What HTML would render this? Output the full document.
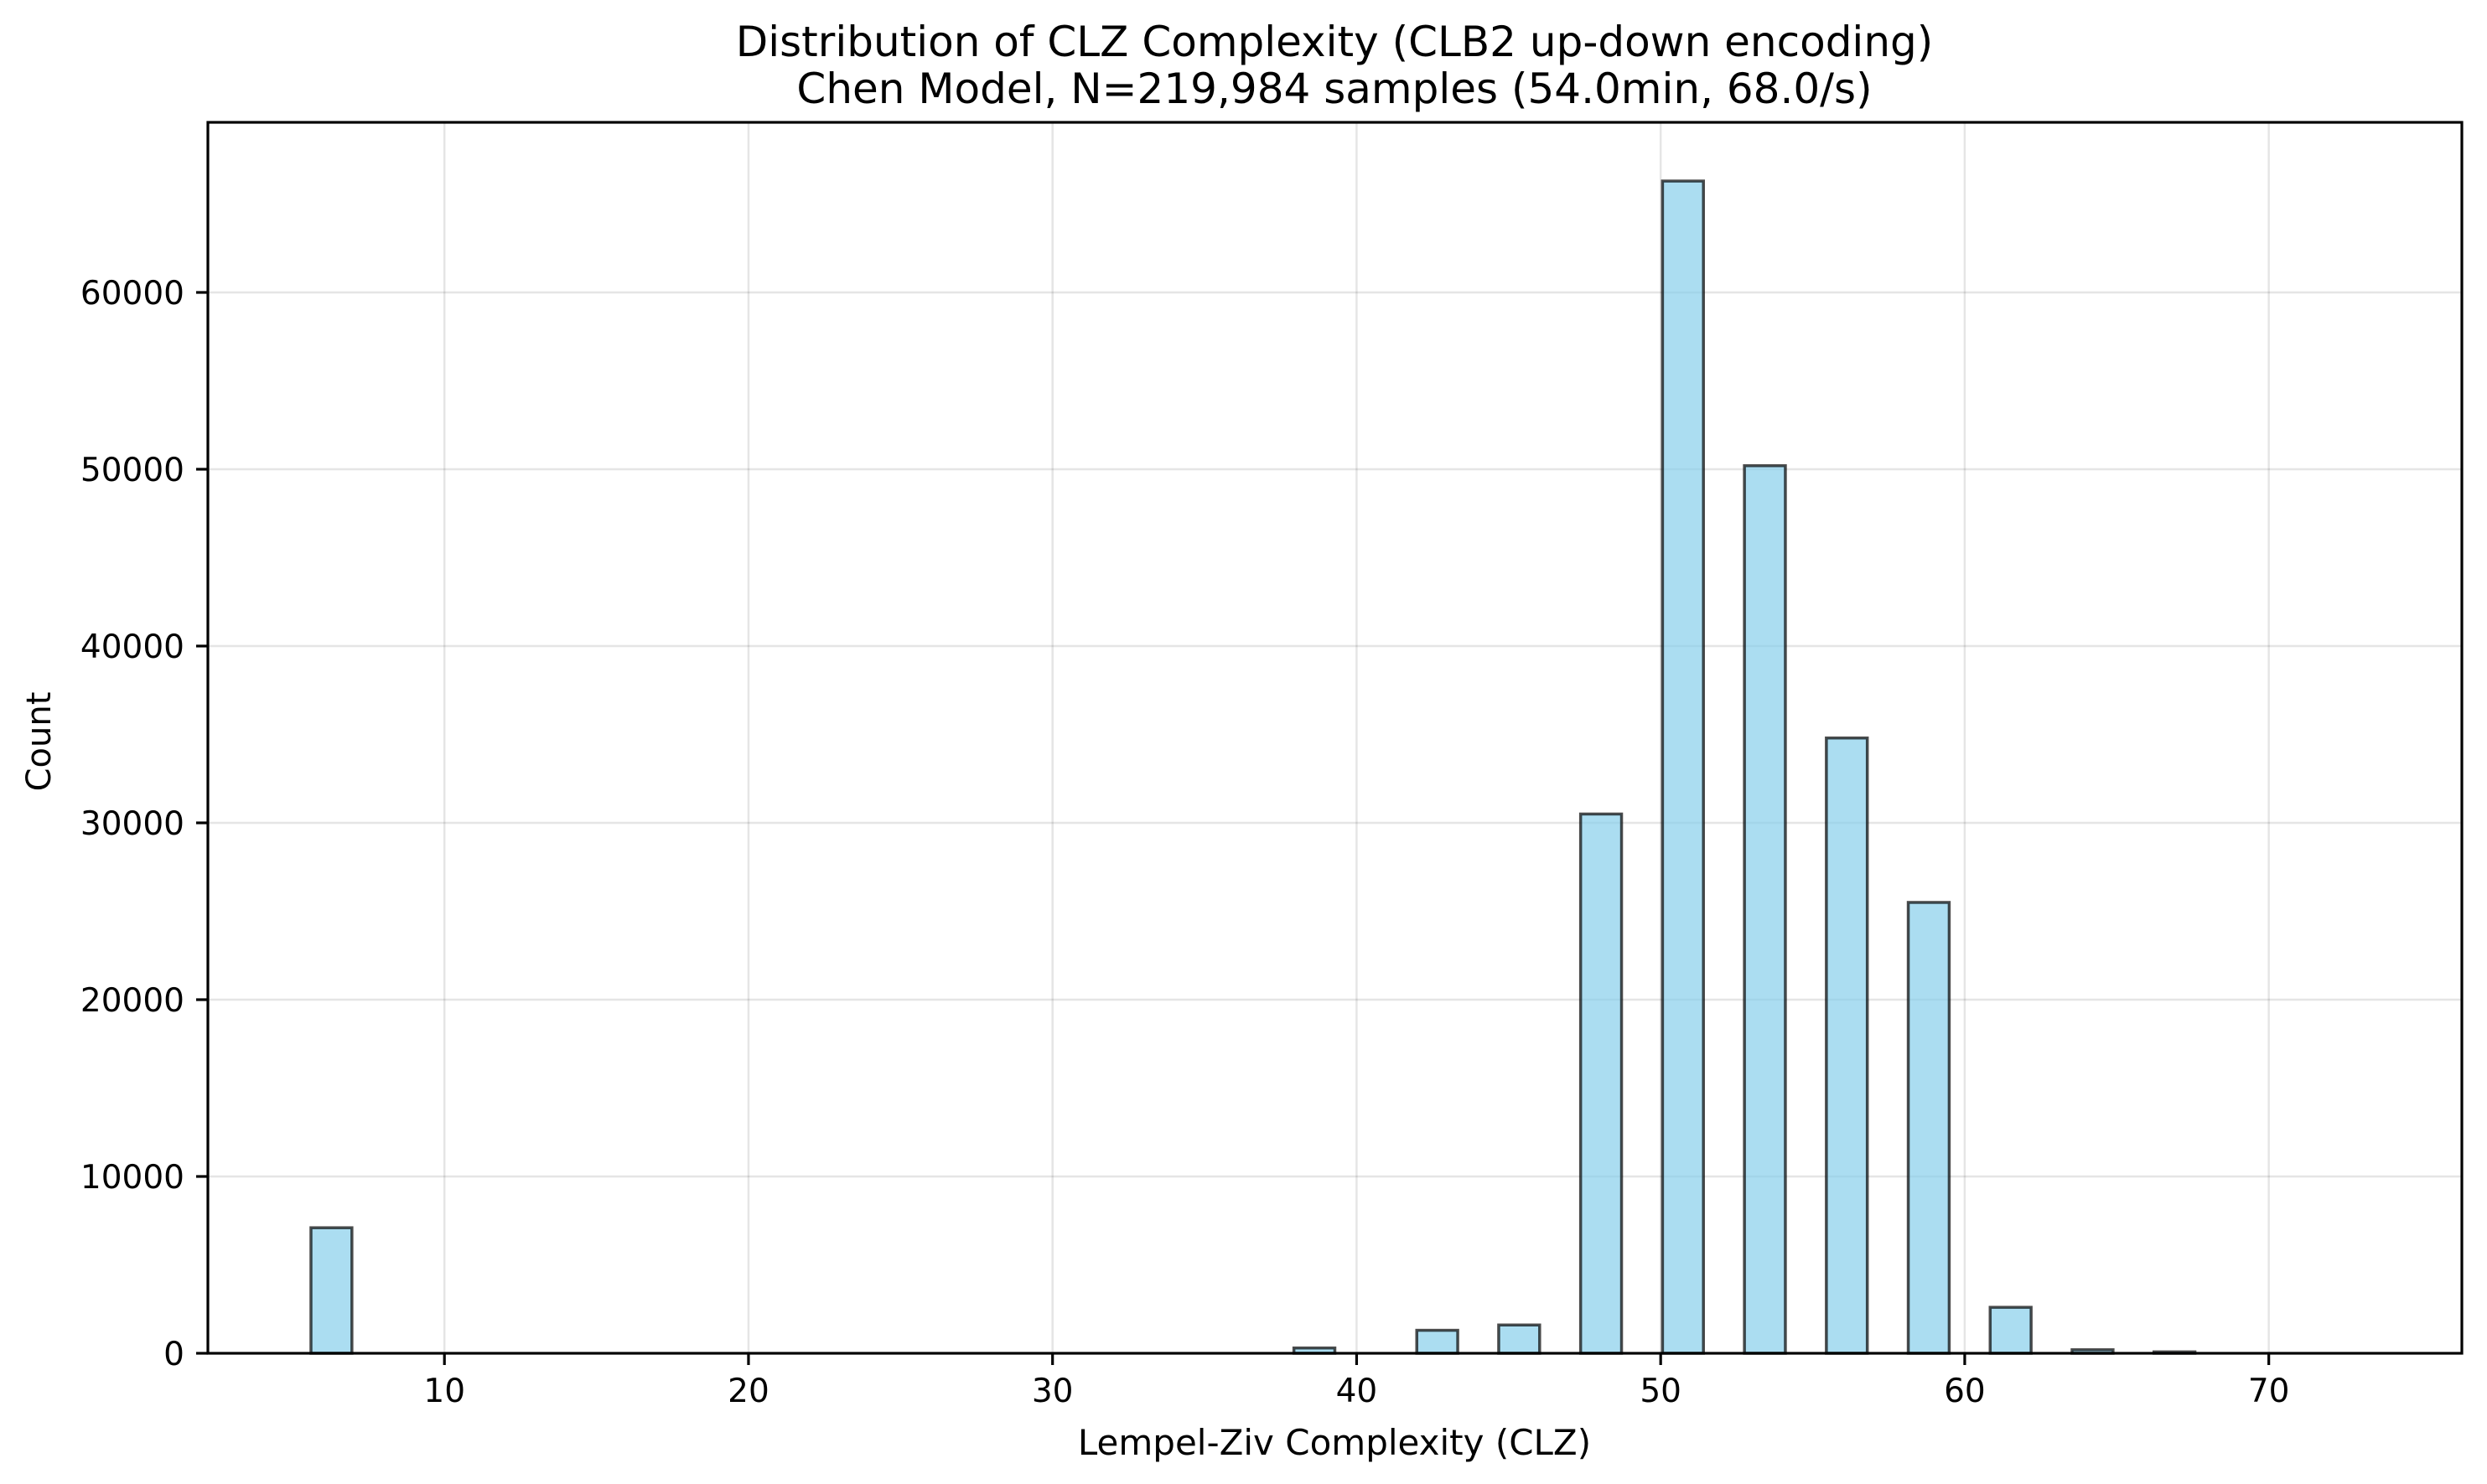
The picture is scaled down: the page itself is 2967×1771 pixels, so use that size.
<!DOCTYPE html>
<html><head><meta charset="utf-8">
<style>
html,body{margin:0;padding:0;background:#fff;}
svg{display:block;font-family:"DejaVu Sans","Liberation Sans",sans-serif;}
</style></head>
<body>
<svg id="chart" width="2967" height="1771" viewBox="0 0 2967 1771" xmlns="http://www.w3.org/2000/svg">
<rect width="2967" height="1771" fill="#fff"/>
<text x="1592" y="67" font-size="50" text-anchor="middle">Distribution of CLZ Complexity (CLB2 up-down encoding)</text>
<text x="1592" y="123" font-size="50" text-anchor="middle">Chen Model, N=219,984 samples (54.0min, 68.0/s)</text>
<g id="grid"></g>
<g id="bars"></g>
<g id="axes"></g>
<text x="1592" y="1736" font-size="42" text-anchor="middle">Lempel-Ziv Complexity (CLZ)</text>
<text transform="translate(60,885) rotate(-90)" font-size="40" text-anchor="middle">Count</text>
</svg>
<script>
const binStart = 5.61;
const binWidth = 1.347;
const counts = [7100,0,0,0,0,0,0,0,0,0,0,0,0,0,0,0,0,0,0,0,0,0,0,0,300,0,0,1300,0,1600,0,30500,0,66300,0,50200,0,34800,0,25500,0,2600,0,200,0,80,0,0,0,0];
const xTicks = [10,20,30,40,50,60,70];
const yTicks = [0,10000,20000,30000,40000,50000,60000];

const L=248, R=2937, T=146, B=1615;
const xMin=2.22, xMax=76.35, yMax=69620;
const NS='http://www.w3.org/2000/svg';
function x(v){return L+(v-xMin)/(xMax-xMin)*(R-L);}
function y(v){return B-v/yMax*(B-T);}
function mk(tag,attrs,parent){const e=document.createElementNS(NS,tag);for(const k in attrs)e.setAttribute(k,attrs[k]);parent.appendChild(e);return e;}

const grid=document.getElementById('grid');
xTicks.forEach(t=>{
  const l=mk('line',{x1:x(t),x2:x(t),y1:T,y2:B,stroke:'#000','stroke-opacity':0.1,'stroke-width':2.5},grid);
  
  
});
yTicks.forEach(t=>{
  const l=mk('line',{x1:L,x2:R,y1:y(t),y2:y(t),stroke:'#000','stroke-opacity':0.1,'stroke-width':2.5},grid);
  
  
});

const bars=document.getElementById('bars');
counts.forEach((c,i)=>{
  const x0=x(binStart+i*binWidth), x1=x(binStart+(i+1)*binWidth);
  const r=mk('rect',{x:x0,y:y(c),width:x1-x0,height:y(0)-y(c),fill:'#87ceeb','fill-opacity':0.7,stroke:'#000','stroke-opacity':0.7,'stroke-width':3.5},bars);
  
  
});

const axes=document.getElementById('axes');
const frame=mk('rect',{x:L,y:T,width:R-L,height:B-T,fill:'none',stroke:'#000','stroke-width':3.2},axes);


xTicks.forEach(t=>{
  const tk=mk('line',{x1:x(t),x2:x(t),y1:B,y2:B+14,stroke:'#000','stroke-width':3.2},axes);
  
  
  const lb=mk('text',{x:x(t),y:B+58,'font-size':39,'text-anchor':'middle'},axes);
  lb.textContent=t;
  
  
});
yTicks.forEach(t=>{
  const tk=mk('line',{x1:L-14,x2:L,y1:y(t),y2:y(t),stroke:'#000','stroke-width':3.2},axes);
  
  
  const lb=mk('text',{x:L-28,y:y(t)+14,'font-size':39,'text-anchor':'end'},axes);
  lb.textContent=t;
  
  
});
</script>
</body></html>
